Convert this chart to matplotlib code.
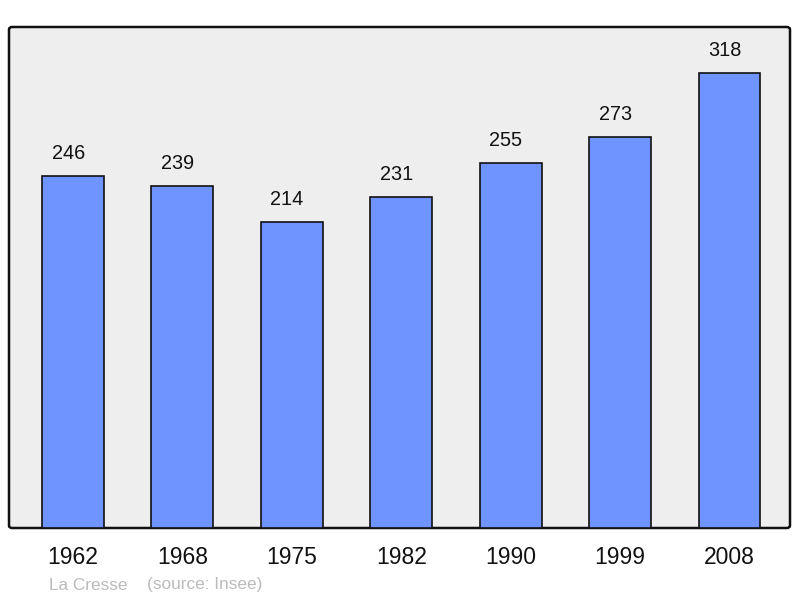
import matplotlib
matplotlib.use("Agg")
import matplotlib.pyplot as plt
from matplotlib.patches import FancyBboxPatch

years = ["1962", "1968", "1975", "1982", "1990", "1999", "2008"]
population = [246, 239, 214, 231, 255, 273, 318]
commune = "La Cresse"
source = "(source: Insee)"

plt.rcParams['font.family'] = ['Liberation Sans', 'DejaVu Sans']

fig = plt.figure(figsize=(8, 5.98), dpi=100)
ax = fig.add_axes([9/800, 70/598, 781/800, 501/598])
ax.set_facecolor('none')
ax.set_zorder(2)
for s in ax.spines.values():
    s.set_visible(False)

frame = FancyBboxPatch((9/800, 70/598), 781/800, 501/598,
                       boxstyle="round,pad=0,rounding_size=0.004",
                       transform=fig.transFigure, facecolor='#eeeeee',
                       edgecolor='#111111', linewidth=1.8, zorder=-1)
fig.patches.append(frame)

x = list(range(len(years)))
bars = ax.bar(x, population, width=0.566, color='#7094ff',
              edgecolor='#111111', linewidth=1.2, zorder=2)
for xi, v in zip(x, population):
    ax.annotate(str(v), (xi, v), xytext=(-3.4, 16.2), textcoords='offset points',
                ha='center', va='center', fontsize=14.3, color='#111111')

ax.set_xlim(-0.584, 6.553)
ax.set_ylim(0, 350)
ax.set_yticks([])
ax.set_xticks(x)
ax.set_xticklabels(years, fontsize=16.5, color='#111111')
ax.tick_params(axis='x', length=0, pad=13)

fig.text(49/800, 1 - 585/598, commune, fontsize=12.4, color='#bbbbbb', va='center', ha='left')
fig.text(147/800, 1 - 585/598, source, fontsize=12.4, color='#bbbbbb', va='center', ha='left')

fig.savefig("out.png", dpi=100)
